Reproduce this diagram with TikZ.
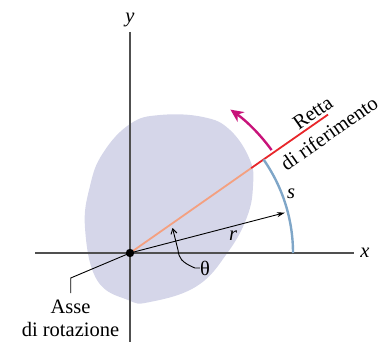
\documentclass[tikz,border=0pt]{standalone}
\usepackage{fontspec}
\setmainfont{Liberation Serif}
\usetikzlibrary{arrows.meta}
\definecolor{blob}{HTML}{D5D6E9}
\definecolor{axisgray}{HTML}{505050}
\definecolor{salmon}{HTML}{F4A080}
\definecolor{refred}{HTML}{E8262A}
\definecolor{arcblue}{HTML}{7FA6C8}
\definecolor{magentaA}{HTML}{C8137A}
\tikzset{
  lbl/.style={font=\fontsize{20.5}{23}\selectfont, inner sep=0pt},
  axisline/.style={draw=axisgray, line width=1.8pt},
  thinline/.style={draw=black, line width=0.9pt},
}
\begin{document}
\begin{tikzpicture}[x=1pt,y=-1pt]
\useasboundingbox (0,0) rectangle (391,342);
\coordinate (O) at (130,253);
% blob
\fill[blob] plot[smooth cycle, tension=0.7] coordinates {
 (160,115) (203,117) (230,130) (250,160) (253,186) (247,217) (228,252)
 (197,286) (150,302) (128,300) (97,280) (85,228) (90,186) (103,153) (130,124)};
% axes
\coordinate (xl) at (35,253);
\coordinate (xr) at (354,253);
\coordinate (yt) at (130,32);
\coordinate (yb) at (130,342);
\draw[axisline] (xl) -- (xr);
\draw[axisline] (yt) -- (yb);
\node[lbl, font=\fontsize{20.5}{23}\selectfont\itshape] (xlab) at (365,253) {x};
\node[lbl, font=\fontsize{20.5}{23}\selectfont\itshape] (ylab) at (130,20) {y};
% reference line
\coordinate (Rmid) at (251.2,168.1);
\coordinate (Rend) at (328,114.6);
\draw[salmon, line width=1.8pt] (O) -- (Rmid);
\draw[refred, line width=1.8pt] (Rmid) -- (Rend);
% blue arc
\coordinate (Bst) at (293,253);
\draw[arcblue, line width=2.4pt] (Bst) arc[start angle=0, end angle=-35, radius=163];
% magenta arrow
\coordinate (Mst) at (271.6,150.1);
\draw[magentaA, line width=2.4pt, -{Stealth[length=13pt,width=12pt]}] (Mst) arc[start angle=-36, end angle=-55, radius=175];
% r arrow
\coordinate (Rtip) at (284.8,212.7);
\draw[thinline, -{Stealth[length=8pt,width=5pt]}] (O) -- (Rtip);
\node[lbl, font=\fontsize{20.5}{23}\selectfont\itshape] (rlab) at (233,236) {r};
\node[lbl, font=\fontsize{20.5}{23}\selectfont\itshape] (slab) at (291,194) {s};
% theta
\node[lbl] (th) at (205,268) {θ};
\coordinate (thtip) at (172.5,228);
\draw[thinline, -{Straight Barb[length=5pt,width=6pt]}] (th.west) -- ++(-5,0) .. controls (181,262) and (179,258) .. (178,250) -- (thtip);
% origin dot
\fill[black] (O) circle (4.2);
% reference line labels
\node[lbl, rotate=35] (retta) at (312.7,113) {Retta};
\node[lbl, rotate=35] (difr) at (329,133) {di riferimento};
% asse di rotazione
\node[lbl, align=center] (asse) at (70.5,318.5) {Asse\\di rotazione};
\coordinate (k1) at (70.7,278);
\coordinate (k2) at (70.7,293);
\draw[thinline] (O) -- (k1) -- (k2);
\end{tikzpicture}
\end{document}
